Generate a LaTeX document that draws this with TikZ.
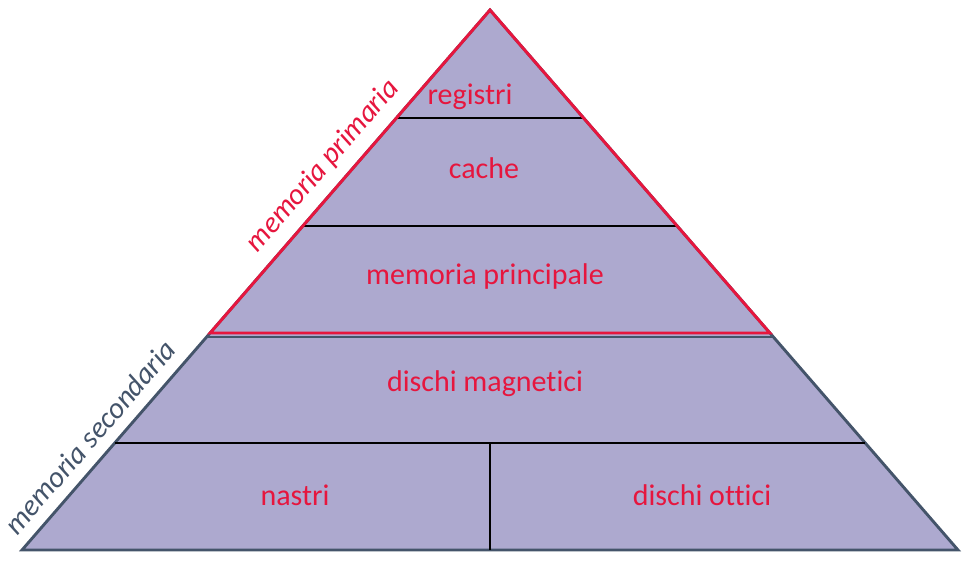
\documentclass[tikz,border=0pt]{standalone}
\usepackage{fontspec}
\setmainfont[Ligatures={NoCommon}]{Carlito}
\definecolor{pfill}{RGB}{173,169,207}
\definecolor{pred}{RGB}{230,22,62}
\definecolor{pslate}{RGB}{68,84,106}
\tikzset{
  lvl/.style={text=pred, font=\fontsize{30}{34}\selectfont, inner sep=0pt},
  side/.style={font=\itshape\fontsize{29.5}{34}\selectfont, inner sep=0pt, rotate=49.1},
  sep/.style={black, line width=1.7pt},
}
\begin{document}
\begin{tikzpicture}[x=1pt,y=-1pt]
\useasboundingbox (0,0) rectangle (968,566);
\coordinate (A) at (490,10);
\coordinate (BL) at (22,550);
\coordinate (BR) at (958,550);
\coordinate (RL) at (210.1,333);
\coordinate (RR) at (769.9,333);
% full pyramid
\fill[pfill] (A) -- (BL) -- (BR) -- cycle;
% lower trapezoid outline
\draw[pslate, line width=2.9pt, line join=miter]
  (A) -- (BL) -- (BR) -- cycle;
\draw[pslate, line width=2.9pt] (206.6,337) -- (773.4,337);
% separators
\coordinate (r1) at (396.4,118); \coordinate (r2) at (583.6,118);
\coordinate (c1) at (302.8,226); \coordinate (c2) at (677.2,226);
\coordinate (d1) at (114.7,443); \coordinate (d2) at (865.3,443);
\coordinate (v1) at (490,443); \coordinate (v2) at (490,550);
\draw[sep] (r1) -- (r2);
\draw[sep] (c1) -- (c2);
\draw[sep] (d1) -- (d2);
\draw[sep] (v1) -- (v2);
% primary memory triangle
\draw[pred, line width=2.9pt, line join=miter] (A) -- (RL) -- (RR) -- cycle;
% level texts
\node[lvl] (reg) at (470,97) {registri};
\node[lvl] (cac) at (484,168) {cache};
\node[lvl] (mp) at (485,276) {memoria principale};
\node[lvl] (dm) at (485,384) {dischi magnetici};
\node[lvl] (na) at (295,495) {nastri};
\node[lvl] (do) at (702,495) {dischi ottici};
% side labels
\node[side, text=pred] (prim) at (323,166) {memoria primaria};
\node[side, text=pslate] (sec) at (90,437) {memoria secondaria};
\end{tikzpicture}
\end{document}
